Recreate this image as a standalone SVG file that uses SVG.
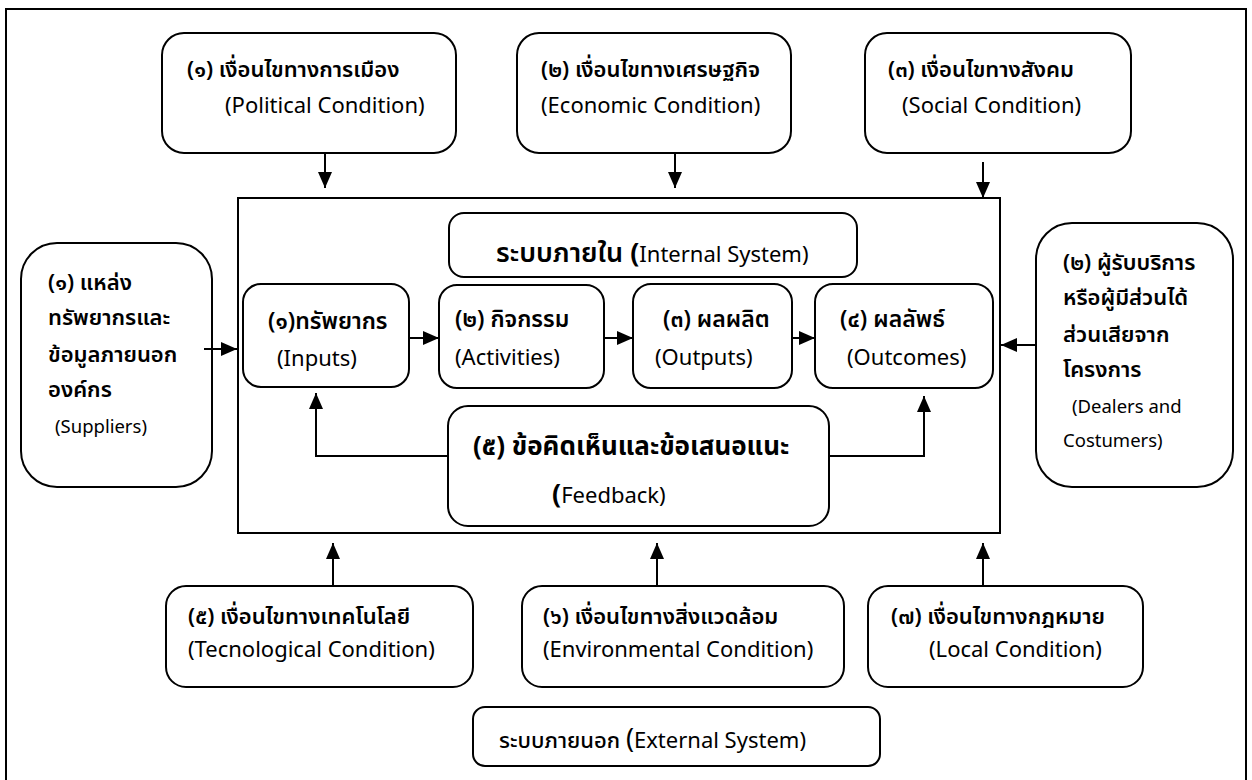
<svg xmlns="http://www.w3.org/2000/svg" width="1252" height="780" viewBox="0 0 1252 780">
<defs>
<style>
.box{fill:#fff;stroke:#000;stroke-width:2}
.frame{fill:none;stroke:#000;stroke-width:2}
.ln{fill:none;stroke:#000;stroke-width:2}
text{font-family:"Noto Sans Thai","Noto Sans","DejaVu Sans","Liberation Sans",sans-serif;fill:#000}
.th{font-size:22px;font-weight:600}
.thi{font-size:23px;font-weight:600}
.en{font-size:22px;font-weight:400}
.sm{font-size:18.5px;font-weight:400}
.big{font-size:27px;font-weight:700}
.fb{font-size:26px;font-weight:700}
.title{font-size:27px;font-weight:600}
</style>
<marker id="ah" viewBox="0 0 16 14" refX="16" refY="7" markerWidth="16" markerHeight="14" markerUnits="userSpaceOnUse" orient="auto">
<path d="M0,0 L16,7 L0,14 z" fill="#000"/>
</marker>
</defs>
<rect width="1252" height="780" fill="#fff"/>
<rect class="frame" x="6" y="9" width="1240" height="800"/>
<rect class="frame" x="238" y="198" width="762" height="335"/>

<g id="political">
<rect class="box" x="162" y="33" width="294" height="120" rx="22"/>
<text class="th" x="187" y="77">(๑) เงื่อนไขทางการเมือง</text>
<text class="en" x="225" y="113">(Political Condition)</text>
</g>
<g id="economic">
<rect class="box" x="517" y="33" width="274" height="120" rx="22"/>
<text class="th" x="541" y="77">(๒) เงื่อนไขทางเศรษฐกิจ</text>
<text class="en" x="541" y="113">(Economic Condition)</text>
</g>
<g id="social">
<rect class="box" x="865" y="33" width="266" height="120" rx="22"/>
<text class="th" x="888" y="77">(๓) เงื่อนไขทางสังคม</text>
<text class="en" x="902" y="113">(Social Condition)</text>
</g>

<g id="suppliers">
<rect class="box" x="21" y="243" width="191" height="244" rx="36"/>
<text class="th" x="48" y="290">(๑) แหล่ง</text>
<text class="th" x="48" y="325">ทรัพยากรและ</text>
<text class="th" x="48" y="362">ข้อมูลภายนอก</text>
<text class="th" x="48" y="397">องค์กร</text>
<text class="sm" x="55" y="433">(Suppliers)</text>
</g>
<g id="customers">
<rect class="box" x="1036" y="223" width="197" height="264" rx="36"/>
<text class="th" x="1063" y="270">(๒) ผู้รับบริการ</text>
<text class="th" x="1063" y="305">หรือผู้มีส่วนได้</text>
<text class="th" x="1063" y="342">ส่วนเสียจาก</text>
<text class="th" x="1063" y="377">โครงการ</text>
<text class="sm" x="1072" y="413">(Dealers and</text>
<text class="sm" x="1063" y="447">Costumers)</text>
</g>

<g id="internal-title">
<rect class="box" x="449" y="213" width="408" height="64" rx="15"/>
<text x="496" y="262"><tspan class="title">ระบบภายใน </tspan><tspan class="big">(</tspan><tspan class="en">Internal System)</tspan></text>
</g>
<g id="inputs">
<rect class="box" x="243" y="284" width="166" height="103" rx="18"/>
<text class="thi" x="268" y="329">(๑)ทรัพยากร</text>
<text class="en" x="277" y="366">(Inputs)</text>
</g>
<g id="activities">
<rect class="box" x="439" y="285" width="165" height="103" rx="18"/>
<text class="thi" x="455" y="327">(๒) กิจกรรม</text>
<text class="en" x="455" y="365">(Activities)</text>
</g>
<g id="outputs">
<rect class="box" x="633" y="284" width="159" height="104" rx="18"/>
<text class="thi" x="663" y="327">(๓) ผลผลิต</text>
<text class="en" x="655" y="365">(Outputs)</text>
</g>
<g id="outcomes">
<rect class="box" x="815" y="284" width="178" height="104" rx="18"/>
<text class="thi" x="840" y="327">(๔) ผลลัพธ์</text>
<text class="en" x="847" y="365">(Outcomes)</text>
</g>
<g id="feedback">
<rect class="box" x="448" y="406" width="381" height="120" rx="20"/>
<text class="fb" x="473" y="455">(๕) ข้อคิดเห็นและข้อเสนอแนะ</text>
<text x="552" y="503"><tspan class="big">(</tspan><tspan class="en">Feedback)</tspan></text>
</g>

<g id="technological">
<rect class="box" x="166" y="586" width="307" height="101" rx="20"/>
<text class="th" x="188" y="624">(๕) เงื่อนไขทางเทคโนโลยี</text>
<text class="en" x="188" y="657">(Tecnological Condition)</text>
</g>
<g id="environmental">
<rect class="box" x="522" y="586" width="322" height="101" rx="20"/>
<text class="th" x="543" y="624">(๖) เงื่อนไขทางสิ่งแวดล้อม</text>
<text class="en" x="543" y="657">(Environmental Condition)</text>
</g>
<g id="local">
<rect class="box" x="868" y="586" width="275" height="101" rx="20"/>
<text class="th" x="891" y="624">(๗) เงื่อนไขทางกฎหมาย</text>
<text class="en" x="929" y="657">(Local Condition)</text>
</g>
<g id="external-title">
<rect class="box" x="473" y="707" width="407" height="59" rx="12"/>
<text x="499" y="748"><tspan font-size="22" font-weight="500">ระบบภายนอก </tspan><tspan font-size="27" font-weight="400">(</tspan><tspan font-size="22" font-weight="400">External System)</tspan></text>
</g>

<g id="connectors">
<line class="ln" x1="325" y1="153" x2="325" y2="188" marker-end="url(#ah)"/>
<line class="ln" x1="675" y1="153" x2="675" y2="188" marker-end="url(#ah)"/>
<line class="ln" x1="983" y1="162" x2="983" y2="198" marker-end="url(#ah)"/>
<line class="ln" x1="204" y1="349" x2="237" y2="349" marker-end="url(#ah)"/>
<line class="ln" x1="1036" y1="345" x2="1001" y2="345" marker-end="url(#ah)"/>
<line class="ln" x1="409" y1="338" x2="439" y2="338" marker-end="url(#ah)"/>
<line class="ln" x1="604" y1="338" x2="633" y2="338" marker-end="url(#ah)"/>
<line class="ln" x1="792" y1="338" x2="815" y2="338" marker-end="url(#ah)"/>
<polyline class="ln" points="448,456 316,456 316,393" marker-end="url(#ah)"/>
<polyline class="ln" points="829,456 924,456 924,396" marker-end="url(#ah)"/>
<line class="ln" x1="333" y1="586" x2="333" y2="543" marker-end="url(#ah)"/>
<line class="ln" x1="657" y1="586" x2="657" y2="543" marker-end="url(#ah)"/>
<line class="ln" x1="983" y1="586" x2="983" y2="543" marker-end="url(#ah)"/>
</g>
</svg>
